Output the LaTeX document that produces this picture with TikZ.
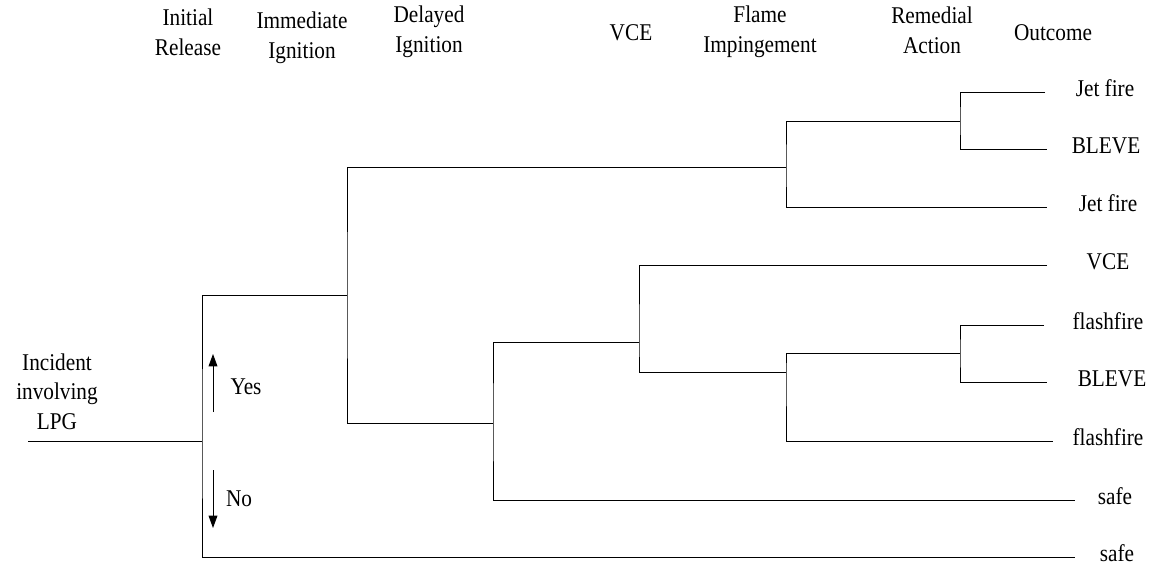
\documentclass[tikz,border=0pt]{standalone}
\usepackage{fontspec}
\setmainfont{Liberation Serif}
\usetikzlibrary{arrows.meta}

\begin{document}
\begin{tikzpicture}[x=0.02cm, y=-0.02cm,
    every node/.style={inner sep=0pt, align=center, yscale=1.13, transform shape,
        font=\fontsize{12.1}{14.9}\selectfont},
    branch/.style={line width=0.5pt},
    outcome/.style={anchor=mid},
    yesno/.style={line width=0.5pt, -{Triangle[length=7pt, width=5pt]}}]
    \path[use as bounding box] (0,0) rectangle (1164,571);

    % column headings
    \node (hInit)    at (188,32.5) {Initial\\Release};
    \node (hImm)     at (302,37.5) {Immediate\\Ignition};
    \node (hDel)     at (429,32)   {Delayed\\Ignition};
    \node (hVCE)     at (631,32.5) {VCE};
    \node (hFlame)   at (760,32)   {Flame\\Impingement};
    \node (hRem)     at (932,30)   {Remedial\\Action};
    \node (hOut)     at (1053,32.5) {Outcome};

    \node (incident) at (57,391.5) {Incident\\involving\\LPG};

    % split points
    \coordinate (start) at (28,441);
    \coordinate (s1) at (202,441);
    \coordinate (s2) at (347,295);
    \coordinate (s3) at (786,167);
    \coordinate (s4) at (960,121);
    \coordinate (s5) at (493,423);
    \coordinate (s6) at (639,342);
    \coordinate (s7) at (786,372);
    \coordinate (s8) at (960,353);

    % branch ends
    \coordinate (e1) at (1045,92);
    \coordinate (e2) at (1047,149);
    \coordinate (e3) at (1047,207);
    \coordinate (e4) at (1047,265);
    \coordinate (e5) at (1044,325);
    \coordinate (e6) at (1047,382);
    \coordinate (e7) at (1053,441);
    \coordinate (e8) at (1075,500);
    \coordinate (e9) at (1075,557);

    % outcomes
    \node[outcome] (o1) at (1105,92)  {Jet fire};
    \node[outcome] (o2) at (1106,149) {BLEVE};
    \node[outcome] (o3) at (1108,207) {Jet fire};
    \node[outcome] (o4) at (1108,265) {VCE};
    \node[outcome] (o5) at (1108,325) {flashfire};
    \node[outcome] (o6) at (1112,382) {BLEVE};
    \node[outcome] (o7) at (1108,441) {flashfire};
    \node[outcome] (o8) at (1115,500) {safe};
    \node[outcome] (o9) at (1117,557) {safe};

    % tree
    \draw[branch] (start) -- (s1);
    \draw[branch] (s2) -| (s1) |- (e9);
    \draw[branch] (s3) -| (s2) |- (s5);
    \draw[branch] (s4) -| (s3) |- (e3);
    \draw[branch] (e1) -| (s4) |- (e2);
    \draw[branch] (s6) -| (s5) |- (e8);
    \draw[branch] (e4) -| (s6) |- (s7);
    \draw[branch] (s8) -| (s7) |- (e7);
    \draw[branch] (e5) -| (s8) |- (e6);

    % yes / no
    \coordinate (yFrom) at (213,412);
    \coordinate (yTo)   at (213,354);
    \coordinate (nFrom) at (213,470);
    \coordinate (nTo)   at (213,528);
    \draw[yesno] (yFrom) -- (yTo);
    \draw[yesno] (nFrom) -- (nTo);
    \node (yes) at (246,386.5) {Yes};
    \node (no)  at (239,498.5) {No};
\end{tikzpicture}
\end{document}
